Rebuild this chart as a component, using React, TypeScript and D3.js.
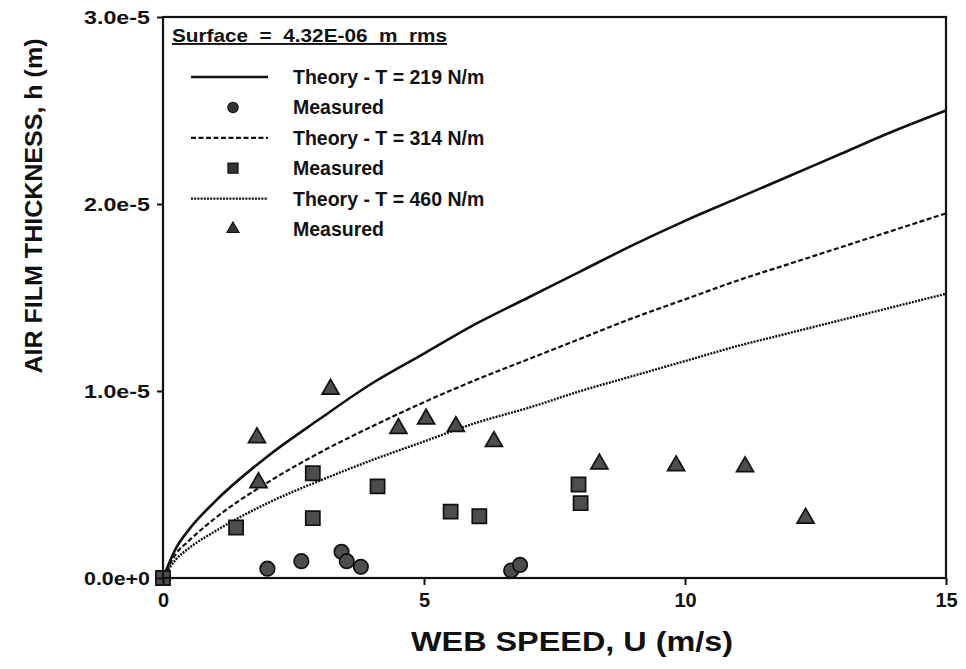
import { useEffect, useRef } from "react"
import * as d3 from "d3"

// web speed U (m/s) at which the theory curves were read
const speedGrid = [0, 0.25, 0.5, 1, 2, 3, 4, 5, 6, 7, 8, 9, 10, 11, 12, 13, 14, 15]
// air film thickness, units of 1e-5 m
const theory219 = [0, 0.16, 0.26, 0.41, 0.65, 0.85, 1.04, 1.2, 1.36, 1.5, 1.64, 1.78, 1.91, 2.03, 2.15, 2.27, 2.39, 2.5]
const theory314 = [0, 0.13, 0.2, 0.32, 0.51, 0.67, 0.81, 0.94, 1.06, 1.17, 1.28, 1.39, 1.49, 1.59, 1.68, 1.77, 1.86, 1.95]
const theory460 = [0, 0.1, 0.16, 0.25, 0.4, 0.52, 0.63, 0.73, 0.83, 0.91, 1.0, 1.08, 1.16, 1.24, 1.31, 1.38, 1.45, 1.52]

const circleU = [0, 2.0, 2.65, 3.42, 3.52, 3.79, 6.67, 6.84]
const circleH = [0, 0.05, 0.09, 0.14, 0.09, 0.06, 0.04, 0.07]
const squareU = [0, 1.4, 2.87, 2.87, 4.11, 5.51, 6.06, 7.96, 8.0]
const squareH = [0, 0.27, 0.56, 0.32, 0.49, 0.355, 0.33, 0.5, 0.4]
const triangleU = [1.8, 1.83, 3.21, 4.51, 5.04, 5.61, 6.34, 8.36, 9.83, 11.15, 12.31]
const triangleH = [0.75, 0.51, 1.01, 0.8, 0.85, 0.81, 0.73, 0.61, 0.6, 0.595, 0.32]

const xTicks = [0, 5, 10, 15]
const yTicks = [0, 1, 2, 3]
const yTickLabels = ["0.0e+0", "1.0e-5", "2.0e-5", "3.0e-5"]

const legendTitle = "Surface  =  4.32E-06  m  rms"
const legendLabels = [
  "Theory - T = 219 N/m", "Measured",
  "Theory - T = 314 N/m", "Measured",
  "Theory - T = 460 N/m", "Measured",
]

const W = 966, H = 669
const margin = { top: 17, right: 20, bottom: 91, left: 163 }
const font = "'Liberation Sans', Arial, Helvetica, sans-serif"

export default function App() {
  const ref = useRef<SVGSVGElement>(null)

  useEffect(() => {
    const width = W - margin.left - margin.right
    const height = H - margin.top - margin.bottom
    const svg = d3.select(ref.current)
    svg.selectAll("*").remove()

    const xScale = d3.scaleLinear().domain([0, 15]).range([0, width])
    const yScale = d3.scaleLinear().domain([0, 3]).range([height, 0])

    const g = svg.append("g").attr("transform", `translate(${margin.left}, ${margin.top})`)

    // theory curves
    const line = d3.line<number>()
      .x((d, i) => xScale(speedGrid[i]))
      .y((d) => yScale(d))
      .curve(d3.curveMonotoneX)

    const curves = [
      { values: theory219, dash: null, w: 2.6 },
      { values: theory314, dash: "5,2.5", w: 2.2 },
      { values: theory460, dash: "2,1.2", w: 2.4 },
    ]
    curves.forEach((c) => {
      g.append("path")
        .attr("d", line(c.values))
        .attr("fill", "none")
        .attr("stroke", "#111")
        .attr("stroke-width", c.w)
        .attr("stroke-dasharray", c.dash)
    })

    // measured points
    const sym = (type: d3.SymbolType, size: number) => d3.symbol().type(type).size(size)()
    const markerStyle = (sel: any) => sel
      .attr("fill", "#4d4d4d")
      .attr("stroke", "#111")
      .attr("stroke-width", 1.7)

    const sets = [
      { u: circleU, h: circleH, path: sym(d3.symbolCircle, 165) },
      { u: squareU, h: squareH, path: sym(d3.symbolSquare, 200) },
      { u: triangleU, h: triangleH, path: sym(d3.symbolTriangle, 125) },
    ]
    sets.forEach((s) => {
      g.append("g")
        .selectAll("path")
        .data(s.u)
        .join("path")
        .attr("d", s.path)
        .attr("transform", (d, i) => `translate(${xScale(d)}, ${yScale(s.h[i])})`)
        .call(markerStyle)
    })

    // frame
    g.append("rect")
      .attr("width", width)
      .attr("height", height)
      .attr("fill", "none")
      .attr("stroke", "#111")
      .attr("stroke-width", 2.2)

    // axes
    const xAxis = d3.axisBottom(xScale).tickValues(xTicks).tickSize(7).tickPadding(8)
    const xg = g.append("g").attr("transform", `translate(0, ${height})`).call(xAxis)
    xg.select(".domain").remove()
    xg.selectAll("line").attr("stroke", "#111").attr("stroke-width", 2)
    xg.selectAll("text")
      .attr("font-family", font)
      .attr("font-weight", "bold")
      .attr("font-size", 20)
      .attr("fill", "#111")

    const yAxis = d3.axisLeft(yScale).tickValues(yTicks).tickSize(6).tickPadding(7)
      .tickFormat((d, i) => yTickLabels[i])
    const yg = g.append("g").call(yAxis)
    yg.select(".domain").remove()
    yg.selectAll("line").attr("stroke", "#111").attr("stroke-width", 2)
    yg.selectAll("text")
      .attr("font-family", font)
      .attr("font-weight", "bold")
      .attr("font-size", 19)
      .attr("textLength", 66)
      .attr("lengthAdjust", "spacingAndGlyphs")
      .attr("fill", "#111")

    // axis titles
    svg.append("text")
      .attr("x", 572)
      .attr("y", 651)
      .attr("text-anchor", "middle")
      .attr("font-family", font)
      .attr("font-weight", "bold")
      .attr("font-size", 27)
      .attr("textLength", 322)
      .attr("lengthAdjust", "spacingAndGlyphs")
      .attr("fill", "#111")
      .text("WEB SPEED, U (m/s)")

    svg.append("text")
      .attr("transform", "translate(42, 206) rotate(-90)")
      .attr("text-anchor", "middle")
      .attr("font-family", font)
      .attr("font-weight", "bold")
      .attr("font-size", 23)
      .attr("textLength", 335)
      .attr("lengthAdjust", "spacingAndGlyphs")
      .attr("fill", "#111")
      .text("AIR FILM THICKNESS, h (m)")

    // legend
    const lg = svg.append("g").attr("font-family", font).attr("font-weight", "bold").attr("fill", "#111")
    lg.append("text")
      .attr("x", 172)
      .attr("y", 42)
      .attr("font-size", 19)
      .attr("textLength", 275)
      .attr("lengthAdjust", "spacingAndGlyphs")
      .attr("text-decoration", "underline")
      .style("white-space", "pre")
      .text(legendTitle)

    const rowY = d3.scaleLinear().domain([0, 5]).range([77, 229])
    legendLabels.forEach((label, i) => {
      const y = rowY(i)
      lg.append("text")
        .attr("x", 293)
        .attr("y", y + 7)
        .attr("font-size", 19.5)
        .text(label)
      if (i % 2 === 0) {
        const c = curves[i / 2]
        lg.append("line")
          .attr("x1", 191).attr("x2", 268)
          .attr("y1", y).attr("y2", y)
          .attr("stroke", "#111")
          .attr("stroke-width", c.w)
          .attr("stroke-dasharray", c.dash)
      } else {
        const s = sets[(i - 1) / 2]
        lg.append("path")
          .attr("d", s.path)
          .attr("transform", `translate(233, ${y}) scale(0.72)`)
          .attr("fill", "#333")
          .attr("stroke", "#111")
          .attr("stroke-width", 1.5)
      }
    })
  }, [])

  return (
    <svg ref={ref} width={W} height={H} style={{ position: "absolute", left: 0, top: 0, background: "#fff" }} />
  )
}
